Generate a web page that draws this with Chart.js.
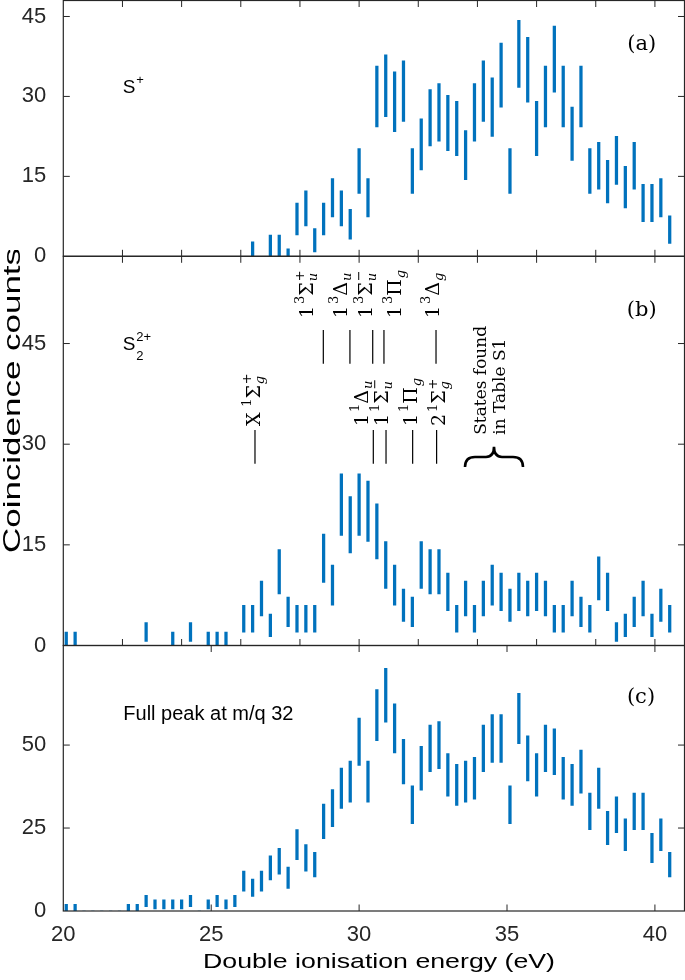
<!DOCTYPE html>
<html>
<head>
<meta charset="utf-8">
<script src="https://cdn.jsdelivr.net/npm/chart.js@4.4.1/dist/chart.umd.min.js"></script>
<style>
  html, body { margin: 0; padding: 0; background: #fff; }
  #wrap { position: relative; width: 685px; height: 980px; overflow: hidden; background: #fff; }
  canvas { position: absolute; left: 0; }
</style>
</head>
<body>
<div id="wrap">
  <canvas id="panelA" width="685" height="275" style="top:0px"></canvas>
  <canvas id="panelB" width="685" height="410" style="top:250px"></canvas>
  <canvas id="panelC" width="685" height="345" style="top:635px"></canvas>
</div>
<script>
// energy bins (eV)
const energies = [
  20.1, 20.4, 20.7, 21.0, 21.3, 21.6, 21.9, 22.2, 22.5, 22.8,
  23.1, 23.4, 23.7, 24.0, 24.3, 24.6, 24.9, 25.2, 25.5, 25.8,
  26.1, 26.4, 26.7, 27.0, 27.3, 27.6, 27.9, 28.2, 28.5, 28.8,
  29.1, 29.4, 29.7, 30.0, 30.3, 30.6, 30.9, 31.2, 31.5, 31.8,
  32.1, 32.4, 32.7, 33.0, 33.3, 33.6, 33.9, 34.2, 34.5, 34.8,
  35.1, 35.4, 35.7, 36.0, 36.3, 36.6, 36.9, 37.2, 37.5, 37.8,
  38.1, 38.4, 38.7, 39.0, 39.3, 39.6, 39.9, 40.2, 40.5
];

// (a) S+
const countsS = [
  null, null, null, null, null, null, null, null, null, null,
  null, null, null, null, null, null, null, null, null, null,
  null, 1, null, 2, 2, 0, 7, 9, 3, 7,
  11, 9, 6, 16, 11, 30, 32, 29, 31, 16,
  21, 26, 27, 25, 24, 19, 27, 31, 28, 34,
  16, 38, 35, 24, 30, 37, 30, 23, 30, 16,
  17, 14, 18, 13, 17, 10, 10, 11, 5
];
const errS = [
  null, null, null, null, null, null, null, null, null, null,
  null, null, null, null, null, null, null, null, null, null,
  null, 1.7, null, 2.0, 2.0, 1.4, 3.0, 3.3, 2.2, 3.0,
  3.6, 3.3, 2.8, 4.2, 3.6, 5.7, 5.8, 5.6, 5.7, 4.2,
  4.8, 5.3, 5.4, 5.2, 5.1, 4.6, 5.4, 5.7, 5.5, 6.0,
  4.2, 6.3, 6.1, 5.1, 5.7, 6.2, 5.7, 5.0, 5.7, 4.2,
  4.4, 4.0, 4.5, 3.9, 4.4, 3.5, 3.5, 3.6, 2.6
];

// (b) S2 2+
const countsS2 = [
  1, 1, 0, 0, 0, 0, 0, 0, 0, 2,
  0, 0, 1, 0, 2, 0, 1, 1, 1, 0,
  4, 4, 7, 3, 11, 5, 4, 4, 4, 13,
  9, 21, 18, 21, 20, 17, 12, 9, 6, 5,
  12, 11, 11, 8, 4, 7, 4, 7, 9, 8,
  6, 8, 7, 8, 7, 4, 4, 7, 5, 4,
  10, 8, 2, 3, 5, 7, 3, 6, 4
];
const errS2 = [
  1.0, 1.0, 0, 0, 0, 0, 0, 0, 0, 1.4,
  0, 0, 1.0, 0, 1.4, 0, 1.0, 1.0, 1.0, 0,
  2.0, 2.0, 2.6, 1.7, 3.3, 2.2, 2.0, 2.0, 2.0, 3.6,
  3.0, 4.6, 4.2, 4.6, 4.5, 4.1, 3.5, 3.0, 2.4, 2.2,
  3.5, 3.3, 3.3, 2.8, 2.0, 2.6, 2.0, 2.6, 3.0, 2.8,
  2.4, 2.8, 2.6, 2.8, 2.6, 2.0, 2.0, 2.6, 2.2, 2.0,
  3.2, 2.8, 1.4, 1.7, 2.2, 2.6, 1.7, 2.4, 2.0
];

// (c) full peak at m/q 32
const countsFull = [
  1, 1, 0, 0, 0, 0, 0, 1, 1, 3,
  2, 2, 2, 2, 3, 0, 2, 3, 2, 3,
  9, 7, 9, 13, 15, 10, 20, 16, 14, 27,
  31, 37, 39, 51, 39, 59, 65, 55, 45, 32,
  43, 49, 50, 41, 38, 39, 40, 49, 52, 52,
  32, 58, 46, 41, 49, 48, 40, 38, 42, 30,
  37, 25, 29, 23, 30, 30, 19, 23, 14
];
const errFull = [
  1.0, 1.0, 0, 0, 0, 0, 0, 1.0, 1.0, 1.7,
  1.4, 1.4, 1.4, 1.4, 1.7, 0, 1.4, 1.7, 1.4, 1.7,
  3.0, 2.6, 3.0, 3.6, 3.9, 3.2, 4.5, 4.0, 3.7, 5.2,
  5.6, 6.1, 6.2, 7.1, 6.2, 7.7, 8.1, 7.4, 6.7, 5.7,
  6.6, 7.0, 7.1, 6.4, 6.2, 6.2, 6.3, 7.0, 7.2, 7.2,
  5.7, 7.6, 6.8, 6.4, 7.0, 6.9, 6.3, 6.2, 6.5, 5.5,
  6.1, 5.0, 5.4, 4.8, 5.5, 5.5, 4.4, 4.8, 3.7
];

// ticks
const xTicksFine = [20, 22, 24, 26, 28, 30, 32, 34, 36, 38, 40];
const xTicksMain = [20, 25, 30, 35, 40];
const yTicksAB = [0, 15, 30, 45];
const yTicksC = [0, 25, 50];

// state assignments in (b): energy of the marker line and of the label
const states = [
  { lead: '1', spin: '3', sym: 'Σ', sub: 'u', sup: '+', lineE: 28.79, textE: 28.20, upper: true },
  { lead: '1', spin: '3', sym: 'Δ', sub: 'u', sup: '',  lineE: 29.69, textE: 29.35, upper: true },
  { lead: '1', spin: '3', sym: 'Σ', sub: 'u', sup: '−', lineE: 30.46, textE: 30.20, upper: true },
  { lead: '1', spin: '3', sym: 'Π', sub: 'g', sup: '',  lineE: 30.84, textE: 31.18, upper: true },
  { lead: '1', spin: '3', sym: 'Δ', sub: 'g', sup: '',  lineE: 32.60, textE: 32.46, upper: true },
  { lead: 'X', spin: '1', sym: 'Σ', sub: 'g', sup: '+', lineE: 26.48, textE: 26.40, upper: false },
  { lead: '1', spin: '1', sym: 'Δ', sub: 'u', sup: '',  lineE: 30.48, textE: 30.06, upper: false },
  { lead: '1', spin: '1', sym: 'Σ', sub: 'u', sup: '−', lineE: 30.91, textE: 30.73, upper: false },
  { lead: '1', spin: '1', sym: 'Π', sub: 'g', sup: '',  lineE: 31.81, textE: 31.72, upper: false },
  { lead: '2', spin: '1', sym: 'Σ', sub: 'g', sup: '+', lineE: 32.62, textE: 32.67, upper: false }
];
const bands = {
  upper: { lineLo: 42.0, lineHi: 47.0, textStart: 48.8 },
  lower: { lineLo: 27.1, lineHi: 32.1, textStart: 32.7 }
};

const axisColor = '#262626';
const barColor = '#0072BD';
const sans = '"Liberation Sans", Arial, sans-serif';
const serif = '"DejaVu Serif", serif';
const tickFont = { family: sans, size: 22 };
const TICK = 6.5;

function errorBars(counts, errs) {
  return energies
    .map((e, i) => counts[i] === null ? null
      : { x: e, y: [Math.max(0, counts[i] - errs[i]), counts[i] + errs[i]] })
    .filter(Boolean);
}

// box + inward ticks, matlab style
const frame = {
  id: 'frame',
  afterDraw(chart) {
    const { ctx, chartArea: a, scales: { x, y } } = chart;
    ctx.save();
    ctx.strokeStyle = axisColor;
    ctx.lineWidth = 1.2;
    ctx.strokeRect(a.left, a.top, a.right - a.left, a.bottom - a.top);
    ctx.beginPath();
    for (const t of x.ticks) {
      const px = x.getPixelForValue(t.value);
      if (px < a.left + 1 || px > a.right - 1) continue;
      ctx.moveTo(px, a.bottom); ctx.lineTo(px, a.bottom - TICK);
      ctx.moveTo(px, a.top); ctx.lineTo(px, a.top + TICK);
    }
    for (const t of y.ticks) {
      const py = y.getPixelForValue(t.value);
      if (py < a.top + 1 || py > a.bottom - 1) continue;
      ctx.moveTo(a.left, py); ctx.lineTo(a.left + TICK, py);
      ctx.moveTo(a.right, py); ctx.lineTo(a.right - TICK, py);
    }
    ctx.lineWidth = 1;
    ctx.stroke();
    ctx.restore();
  }
};

function drawSpecies(ctx, x, y, sym, sub, sup) {
  ctx.save();
  ctx.fillStyle = '#000';
  ctx.textAlign = 'left';
  ctx.textBaseline = 'alphabetic';
  ctx.font = `19px ${sans}`;
  ctx.fillText(sym, x, y);
  const w = ctx.measureText(sym).width + 1;
  ctx.font = `13px ${sans}`;
  if (sup) ctx.fillText(sup, x + w, y - 9);
  if (sub) ctx.fillText(sub, x + w, y + 10);
  ctx.restore();
}

function drawTag(ctx, txt, x, y) {
  ctx.save();
  ctx.fillStyle = '#000';
  ctx.font = `21px ${serif}`;
  ctx.textAlign = 'center';
  ctx.textBaseline = 'middle';
  ctx.fillText(txt, x, y);
  ctx.restore();
}

// text stretched to a given length, optionally rotated
function drawWide(ctx, txt, x, y, size, len, rot) {
  ctx.save();
  ctx.translate(x, y);
  if (rot) ctx.rotate(-Math.PI / 2);
  ctx.fillStyle = '#000';
  ctx.font = `${size}px ${sans}`;
  ctx.textAlign = 'center';
  ctx.textBaseline = 'alphabetic';
  ctx.scale(len / ctx.measureText(txt).width, 1);
  ctx.fillText(txt, 0, 0);
  ctx.restore();
}

// term symbol, written upward
function drawState(ctx, s, bx, by, F) {
  const f = Math.round(F * 0.7);
  ctx.save();
  ctx.translate(bx, by);
  ctx.rotate(-Math.PI / 2);
  ctx.fillStyle = '#000';
  ctx.textAlign = 'left';
  ctx.textBaseline = 'alphabetic';
  let cx = 0;
  ctx.font = `${F}px ${serif}`;
  ctx.fillText(s.lead, cx, 0);
  cx += ctx.measureText(s.lead).width + F * (s.lead === 'X' ? 0.3 : 0.1);
  ctx.font = `${f}px ${serif}`;
  ctx.fillText(s.spin, cx, -0.45 * F);
  cx += ctx.measureText(s.spin).width;
  ctx.font = `${F}px ${serif}`;
  ctx.fillText(s.sym, cx, 0);
  cx += ctx.measureText(s.sym).width + 1;
  ctx.font = `italic ${f}px ${serif}`;
  ctx.fillText(s.sub, cx, 0.22 * F);
  if (s.sup) {
    ctx.font = `${f}px ${serif}`;
    ctx.fillText(s.sup, cx, -0.45 * F);
  }
  ctx.restore();
}

function makePanel(id, data, yMax, yTicks, xTicks, showX, xHeight, padTop, deco) {
  return new Chart(document.getElementById(id), {
    type: 'bar',
    data: {
      datasets: [{
        data: data,
        backgroundColor: barColor,
        borderWidth: 0,
        barThickness: 2.6
      }]
    },
    options: {
      responsive: false,
      animation: false,
      events: [],
      layout: { padding: { top: padTop, right: 0.5, left: 0, bottom: 0 } },
      plugins: { legend: { display: false }, tooltip: { enabled: false } },
      scales: {
        x: {
          type: 'linear',
          min: 20,
          max: 41,
          offset: false,
          grid: { display: false },
          border: { display: false },
          afterBuildTicks: s => { s.ticks = xTicks.map(v => ({ value: v })); },
          afterFit: s => { s.height = xHeight; s.paddingLeft = 0; s.paddingRight = 0; },
          ticks: { display: showX, font: tickFont, color: axisColor, padding: 3, maxRotation: 0 }
        },
        y: {
          min: 0,
          max: yMax,
          grid: { display: false },
          border: { display: false },
          afterBuildTicks: s => { s.ticks = yTicks.map(v => ({ value: v })); },
          afterFit: s => { s.width = 63.3; s.paddingTop = 0; s.paddingBottom = 0; },
          ticks: { font: tickFont, color: axisColor, padding: 9 }
        }
      }
    },
    plugins: [frame, deco]
  });
}

makePanel('panelA', errorBars(countsS, errS), 48, yTicksAB, xTicksFine, false, 18.7, 0.5, {
  id: 'decoA',
  afterDraw(chart) {
    drawSpecies(chart.ctx, 122.7, 93, 'S', '', '+');
    drawTag(chart.ctx, '(a)', 641.7, 45);
  }
});

makePanel('panelB', errorBars(countsS2, errS2), 58, yTicksAB, xTicksFine, false, 14.5, 6.3, {
  id: 'decoB',
  afterDraw(chart) {
    const { ctx, scales: { x, y } } = chart;
    drawSpecies(ctx, 122.7, 100, 'S', '2', '2+');
    drawTag(ctx, '(b)', 641.7, 61);
    drawWide(ctx, 'Coincidence counts', 20, 150.5, 24, 305, true);

    ctx.save();
    ctx.strokeStyle = '#000';
    ctx.lineWidth = 1.2;
    for (const s of states) {
      const g = s.upper ? bands.upper : bands.lower;
      const lx = x.getPixelForValue(s.lineE);
      ctx.beginPath();
      ctx.moveTo(lx, y.getPixelForValue(g.lineLo));
      ctx.lineTo(lx, y.getPixelForValue(g.lineHi));
      ctx.stroke();
      drawState(ctx, s, x.getPixelForValue(s.textE) + 7, y.getPixelForValue(g.textStart), 19);
    }

    // brace under "States found in Table S1"
    const bc = x.getPixelForValue(34.56);
    const yEnd = y.getPixelForValue(26.6), yMid = y.getPixelForValue(28.1), yTip = y.getPixelForValue(29.6);
    ctx.lineWidth = 2.6;
    ctx.beginPath();
    ctx.moveTo(bc - 29, yEnd);
    ctx.quadraticCurveTo(bc - 29, yMid, bc - 19, yMid);
    ctx.lineTo(bc - 8, yMid);
    ctx.quadraticCurveTo(bc, yMid, bc, yTip);
    ctx.quadraticCurveTo(bc, yMid, bc + 8, yMid);
    ctx.lineTo(bc + 19, yMid);
    ctx.quadraticCurveTo(bc + 29, yMid, bc + 29, yEnd);
    ctx.stroke();
    ctx.restore();

    const ys = y.getPixelForValue(31.4);
    for (const [txt, dx] of [['States found', -8], ['in Table S1', 11]]) {
      ctx.save();
      ctx.translate(bc + dx, ys);
      ctx.rotate(-Math.PI / 2);
      ctx.fillStyle = '#000';
      ctx.font = `17px ${serif}`;
      ctx.textAlign = 'left';
      ctx.textBaseline = 'alphabetic';
      ctx.fillText(txt, 0, 0);
      ctx.restore();
    }
  }
});

makePanel('panelC', errorBars(countsFull, errFull), 80, yTicksC, xTicksMain, true, 69, 10.5, {
  id: 'decoC',
  afterDraw(chart) {
    const ctx = chart.ctx;
    ctx.save();
    ctx.fillStyle = '#000';
    ctx.font = `20px ${sans}`;
    ctx.textBaseline = 'alphabetic';
    ctx.fillText('Full peak at m/q 32', 123.3, 85);
    ctx.restore();
    drawTag(ctx, '(c)', 641, 62.5);
    drawWide(ctx, 'Double ionisation energy (eV)', 379, 333.3, 21, 352, false);
  }
});
</script>
</body>
</html>
